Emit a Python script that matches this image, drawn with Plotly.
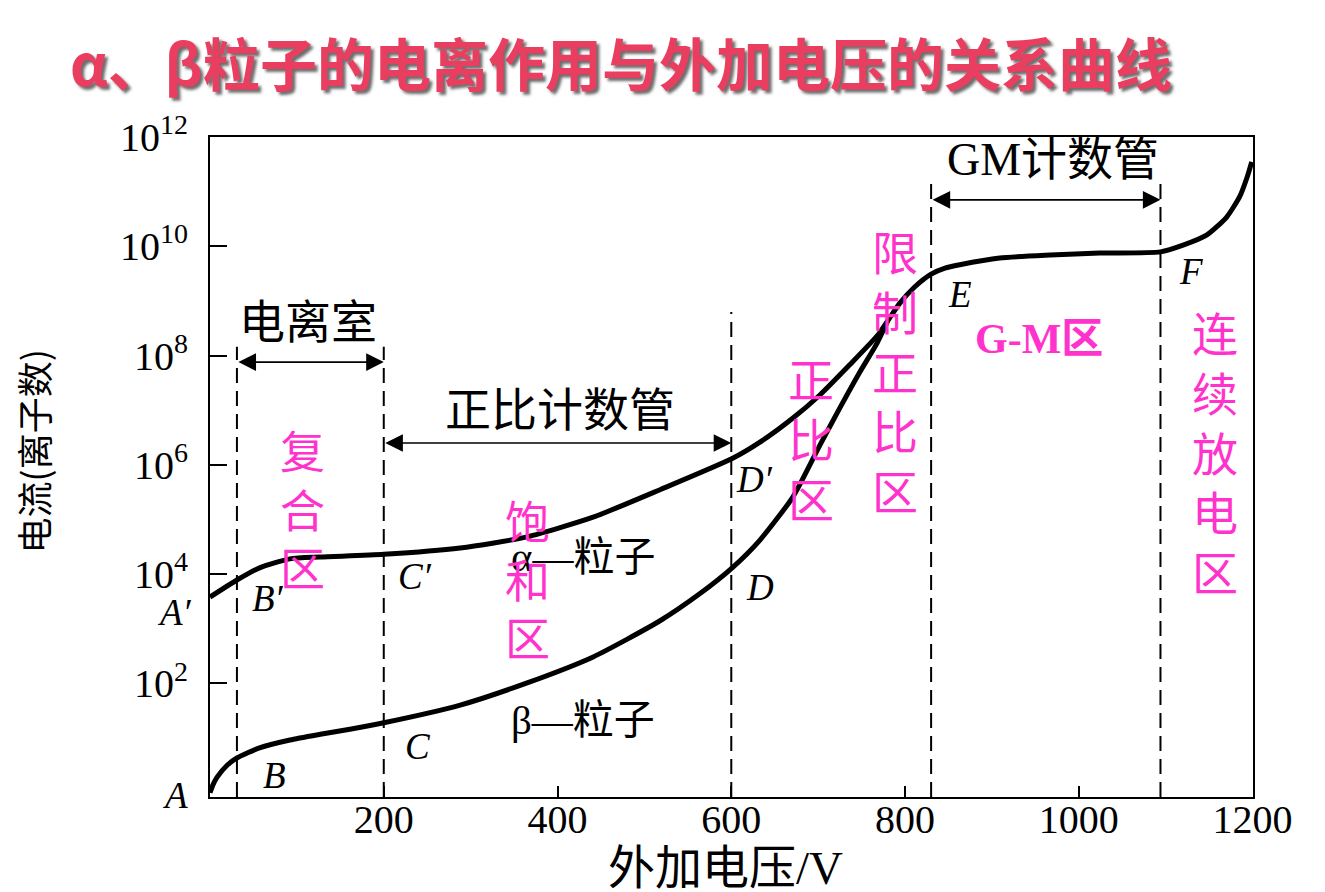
import plotly.graph_objects as go

# ---------------- data ----------------
alpha_v = [0, 31, 57, 92, 127, 200, 288, 365, 441, 518, 601, 633, 671, 702, 736, 769, 780,
           794, 811, 830, 846, 863, 909, 967, 1024, 1094, 1120, 1147, 1170, 1185, 1194, 1199]
alpha_n = [3.8e3, 7.8e3, 1.3e4, 1.9e4, 2.05e4, 2.3e4, 3.0e4, 4.8e4, 1.1e5, 3.5e5, 1.3e6,
           2.6e6, 7.2e6, 1.9e7, 6.7e7, 2.4e8, 4.3e8, 9.1e8, 1.8e9, 3.1e9, 4.0e9, 4.6e9,
           6.1e9, 6.9e9, 7.5e9, 7.9e9, 1.05e10, 1.6e10, 3.4e10, 8.0e10, 1.9e11, 3.5e11]

beta_v = [0, 3.5, 8, 20, 31, 57, 92, 127, 161, 200, 288, 365, 441, 518, 564, 601,
          633, 671, 702, 725, 748, 767, 780]
beta_n = [1.0, 1.4, 1.9, 3.2, 4.3, 6.6, 9.2, 11.7, 14.5, 19, 40, 102, 305, 1.4e3,
          4.4e3, 1.3e4, 4.2e4, 2.6e5, 2.3e6, 1.1e7, 5.0e7, 1.6e8, 4.3e8]

# region boundaries (V) and top of each dashed line (ion number)
boundary_v = [31, 200, 600, 830, 1094]
boundary_top = [1.45e8, 1.45e8, 6.3e8, 1.6e11, 1.6e11]

x_ticks = [200, 400, 600, 800, 1000, 1200]
y_exps = [2, 4, 6, 8, 10, 12]

YMIN_LOG = -0.08
YMAX_LOG = 12.0005

BLACK_FONT = "Liberation Serif, Noto Sans CJK SC"
CJK = "Noto Sans CJK SC"
MAGENTA = "#FF33CC"

fig = go.Figure()

# dashed boundary lines
for v, top in zip(boundary_v, boundary_top):
    fig.add_trace(go.Scatter(x=[v, v], y=[10 ** YMIN_LOG, top], mode="lines",
                             line=dict(color="black", width=2, dash="15px,8px"),
                             hoverinfo="skip", showlegend=False))

# curves
fig.add_trace(go.Scatter(x=alpha_v, y=alpha_n, mode="lines",
                         line=dict(color="black", width=5, shape="spline", smoothing=0.6),
                         showlegend=False, name="α粒子"))
fig.add_trace(go.Scatter(x=beta_v, y=beta_n, mode="lines",
                         line=dict(color="black", width=5, shape="spline", smoothing=0.6),
                         showlegend=False, name="β粒子"))

ann = []

def txt(x, ylog, text, size, color="black", family=BLACK_FONT, **kw):
    ann.append(dict(x=x, y=ylog, xref="x", yref="y", text=text, showarrow=False,
                    xanchor="center", yanchor="middle",
                    font=dict(size=size, color=color, family=family), **kw))

def ptxt(x, y, text, size, color="black", family=BLACK_FONT, **kw):
    ann.append(dict(x=x, y=y, xref="paper", yref="paper", text=text, showarrow=False,
                    xanchor="center", yanchor="middle",
                    font=dict(size=size, color=color, family=family), **kw))

# point letters
ptxt(-0.034, 0.003, "<i>A</i>", 37)
ptxt(-0.034, 0.280, "<i>A′</i>", 37)
for x, y, t in [(74, 0.31, "B"), (67, 3.56, "B′"),
                (239, 0.84, "C"), (236, 3.95, "C′"), (633, 3.75, "D"), (627, 5.74, "D′"),
                (863, 9.11, "E"), (1129, 9.53, "F")]:
    txt(x, y, "<i>" + t + "</i>", 37)

txt(429, 4.31, "α—粒子", 41)
txt(429, 1.33, "β—粒子", 41)

# device labels and arrows
txt(113, 8.60, "电离室", 46)
txt(403, 7.00, "正比计数管", 46)
txt(970, 11.58, "GM计数管", 46)

for x0, x1, ylog in [(31, 200, 7.88), (200, 600, 6.40), (830, 1094, 10.85)]:
    ann.append(dict(x=x1, y=ylog, ax=x0, ay=ylog, xref="x", yref="y", axref="x", ayref="y",
                    text="", showarrow=True, arrowhead=2, startarrowhead=2,
                    arrowside="end+start", arrowwidth=1.6, arrowsize=2.2,
                    startarrowsize=2.2, arrowcolor="black"))

# region names (magenta, vertical)
def vert(s):
    return "<br>".join(list(s))

txt(106, 5.21, vert("复合区"), 45, MAGENTA, CJK)
txt(365, 3.93, vert("饱和区"), 45, MAGENTA, CJK)
txt(692, 6.51, vert("正比区"), 46, MAGENTA, CJK)
txt(788, 7.75, vert("限制正比区"), 46, MAGENTA, CJK)
txt(1157, 6.27, vert("连续放电区"), 46, MAGENTA, CJK)
txt(954, 8.30, "<b>G-M区</b>", 42, MAGENTA, "Liberation Serif, Noto Sans CJK SC")

# axis titles
ptxt(-0.170, 0.523, "电流(离子数)", 36, family=CJK, textangle=-90)
ptxt(0.494, -0.108, "外加电压/V", 47)

# title
ptxt(0.394, 1.115, "<b>α、β粒子的电离作用与外加电压的关系曲线</b>", 57,
     color="#E93E60", family=CJK)
ann[-1]["font"]["shadow"] = "3px 3px 3px rgba(60,60,60,0.75)"

# the page body has an 8px margin, so margins are shifted by 8px
fig.update_layout(
    width=1325, height=892,
    margin=dict(l=202, r=80, t=129, b=103, autoexpand=False),
    paper_bgcolor="white", plot_bgcolor="white",
    annotations=ann,
    showlegend=False,
)

fig.update_xaxes(range=[0, 1200.5], tickvals=x_ticks, ticktext=[str(v) for v in x_ticks],
                 ticks="inside", ticklen=11, tickwidth=2, tickcolor="black",
                 showline=True, linewidth=2, linecolor="black", mirror=True,
                 showgrid=False, zeroline=False, ticklabelstandoff=-14,
                 tickfont=dict(size=40, family="Liberation Serif", color="black"))

fig.update_yaxes(type="log", range=[YMIN_LOG, YMAX_LOG],
                 tickvals=[10 ** e for e in y_exps],
                 ticktext=["10<sup>%d</sup>" % e for e in y_exps],
                 ticks="inside", ticklen=17, tickwidth=2, tickcolor="black",
                 showline=True, linewidth=2, linecolor="black", mirror=True,
                 showgrid=False, zeroline=False,
                 ticklabelstandoff=12,
                 tickfont=dict(size=40, family="Liberation Serif", color="black"))

fig.write_html("out.html")
